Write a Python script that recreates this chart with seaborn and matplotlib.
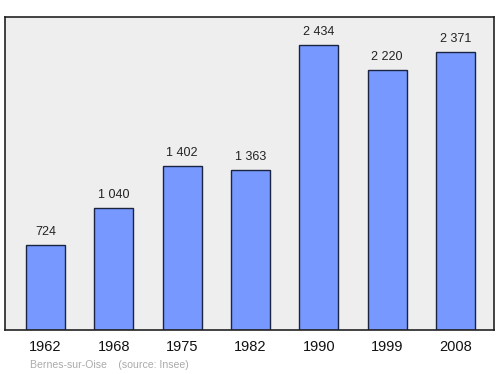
import matplotlib
matplotlib.use("Agg")
import matplotlib.pyplot as plt
import seaborn as sns
import pandas as pd

years = ["1962", "1968", "1975", "1982", "1990", "1999", "2008"]
population = [724, 1040, 1402, 1363, 2434, 2220, 2371]
value_labels = ["724", "1 040", "1 402", "1 363", "2 434", "2 220", "2 371"]
source_text = "Bernes-sur-Oise    (source: Insee)"

sns.set_style("white")
plt.rcParams["font.family"] = ["Liberation Sans", "DejaVu Sans"]

df = pd.DataFrame({"year": years, "pop": population})

fig = plt.figure(figsize=(5, 3.74), dpi=100)
ax = fig.add_axes([0.01, 1 - 330 / 374, 0.978, 313 / 374])
sns.barplot(data=df, x="year", y="pop", ax=ax, color="#7799ff", saturation=1,
            width=0.57, edgecolor="#1a2340", linewidth=1.0)
ax.set_facecolor("#eeeeee")
ax.set_xlim(-0.593, 6.564)
ax.set_ylim(0, 2673)
ax.set_xlabel("")
ax.set_ylabel("")
ax.set_yticks([])
ax.tick_params(axis="x", length=0, pad=7.5, labelsize=10.5, labelcolor="#111111")
for s in ax.spines.values():
    s.set_color("#222222")
    s.set_linewidth(1.2)
for i, (v, lab) in enumerate(zip(population, value_labels)):
    ax.annotate(lab, (i, v), xytext=(0, 5), textcoords="offset points",
                ha="center", va="bottom", fontsize=9, color="#222222")
fig.text(30 / 500, 1 - 365 / 374, source_text, fontsize=7.6, color="#aaaaaa",
         ha="left", va="center")
fig.savefig("out.png", dpi=100)
